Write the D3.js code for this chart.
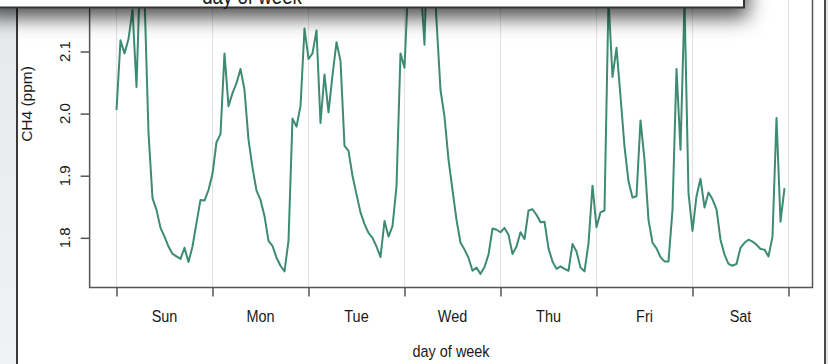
<!DOCTYPE html>
<html><head><meta charset="utf-8">
<script src="https://cdn.jsdelivr.net/npm/d3@7"></script>
<style>html,body{margin:0;padding:0;background:#fff;} svg{display:block;}</style>
</head><body><svg id="c" width="828" height="364"></svg>
<script>
// ---- data (hourly CH4, ppm) ----
const days = ["Sun","Mon","Tue","Wed","Thu","Fri","Sat"];
const sun = [2.006,2.118,2.097,2.120,2.167,2.043,2.250,2.190,1.969,1.864,1.845,1.816,1.802,1.786,1.774,1.770,1.766,1.784,1.761,1.786,1.824,1.861,1.860,1.877];
const mon = [1.903,1.954,1.967,2.097,2.012,2.033,2.049,2.072,2.038,1.958,1.913,1.876,1.861,1.835,1.795,1.787,1.768,1.755,1.746,1.795,1.992,1.979,2.012,2.137];
const tue = [2.088,2.097,2.134,1.985,2.063,2.002,2.062,2.115,2.085,1.948,1.940,1.900,1.870,1.841,1.822,1.808,1.800,1.786,1.769,1.827,1.802,1.819,1.883,2.097];
const wed = [2.074,2.220,2.280,2.250,2.212,2.111,2.350,2.280,2.150,2.038,1.995,1.926,1.877,1.829,1.792,1.781,1.768,1.747,1.752,1.742,1.753,1.773,1.815,1.813];
const thu = [1.809,1.816,1.805,1.774,1.786,1.809,1.798,1.844,1.846,1.837,1.825,1.826,1.783,1.762,1.750,1.754,1.750,1.747,1.790,1.778,1.752,1.746,1.791,1.884];
const fri = [1.817,1.841,1.844,2.185,2.059,2.106,2.028,1.947,1.891,1.865,1.867,1.989,1.926,1.829,1.792,1.783,1.769,1.762,1.762,1.845,2.072,1.942,2.180,1.872];
const sat = [1.811,1.867,1.895,1.849,1.873,1.862,1.846,1.797,1.773,1.758,1.755,1.758,1.784,1.792,1.797,1.794,1.789,1.782,1.781,1.770,1.802,1.993,1.826,1.880];
const yTicks = [1.8, 1.9, 2.0, 2.1];
const dayTicks = [0,1,2,3,4,5,6,7];
const xTitle = "day of week";
const yTitle = "CH4 (ppm)";

const series = [sun,mon,tue,wed,thu,fri,sat];
const points = series.flatMap((arr,d)=>arr.map((v,h)=>({t:d+h/24, v:v})));

const svg = d3.select("#c");
const FONT = "'Liberation Sans', Arial, Helvetica, sans-serif";
const x = d3.scaleLinear().domain([0,7]).range([116.5,788.5]);
const y = d3.scaleLinear().domain([1.72,2.4]).range([287.5, 287.5-0.68*621]);

const pLeft = x(-0.28), pRight = 812.5, pBottom = y(1.72), pTop = y(2.4);

// window chrome
const defs = svg.append("defs");
const lg = defs.append("linearGradient").attr("id","lg").attr("x1",0).attr("y1",0).attr("x2",0).attr("y2",1);
lg.append("stop").attr("offset","0%").attr("stop-color","#e6e8eb");
lg.append("stop").attr("offset","100%").attr("stop-color","#f1f2f4");
svg.append("rect").attr("x",0).attr("y",0).attr("width",16).attr("height",364).attr("fill","url(#lg)");
svg.append("line").attr("x1",17).attr("x2",17).attr("y1",0).attr("y2",364).attr("stroke","#3a3a3a").attr("stroke-width",2);
svg.append("line").attr("x1",825).attr("x2",825).attr("y1",0).attr("y2",364).attr("stroke","#4a4a4a").attr("stroke-width",2);
svg.append("rect").attr("x",826).attr("y",0).attr("width",2).attr("height",364).attr("fill","#e4e4e4");

// gridlines
svg.append("g").selectAll("line").data(dayTicks).join("line")
  .attr("x1",d=>x(d)).attr("x2",d=>x(d)).attr("y1",pTop).attr("y2",pBottom)
  .attr("stroke","#e4e4e4").attr("stroke-width",1.2);

// data line
const line = d3.line().x(d=>x(d.t)).y(d=>y(d.v));
svg.append("path").datum(points).attr("d",line)
  .attr("fill","none").attr("stroke","#3d8b72").attr("stroke-width",2).attr("stroke-linejoin","round");

// box
svg.append("path").attr("d",`M${pLeft},${pTop}V${pBottom}H${pRight}V${pTop}`)
  .attr("fill","none").attr("stroke","#555").attr("stroke-width",1.5);

// x axis ticks & labels
const xa = d3.axisBottom(x).tickValues(dayTicks).tickSize(9).tickFormat("");
const gx = svg.append("g").attr("transform",`translate(0,${pBottom})`).call(xa);
gx.select(".domain").remove();
gx.selectAll("line").attr("stroke","#555").attr("stroke-width",1.5);
svg.append("g").selectAll("text").data(days).join("text")
  .attr("transform",(d,i)=>`translate(${x(i+0.5)},321.5) scale(0.85,1)`)
  .attr("text-anchor","middle").attr("font-family",FONT).attr("font-size",17).attr("fill","#1a1a1a")
  .text(d=>d);
svg.append("text").attr("transform",`translate(${(pLeft+pRight)/2},357) scale(0.85,1)`)
  .attr("text-anchor","middle").attr("font-family",FONT).attr("font-size",17).attr("fill","#1a1a1a").text(xTitle);

// y axis ticks & labels
const ya = d3.axisLeft(y).tickValues(yTicks).tickSize(9).tickFormat("");
const gy = svg.append("g").attr("transform",`translate(${pLeft},0)`).call(ya);
gy.select(".domain").remove();
gy.selectAll("line").attr("stroke","#555").attr("stroke-width",1.5);
svg.append("g").selectAll("text").data(yTicks).join("text")
  .attr("transform",d=>`translate(70,${y(d)}) rotate(-90) scale(1,0.95)`)
  .attr("text-anchor","middle").attr("font-family",FONT).attr("font-size",15).attr("fill","#1a1a1a")
  .text(d=>d3.format(".1f")(d));
svg.append("text").attr("transform",`translate(32,104) rotate(-90) scale(1,0.9)`)
  .attr("text-anchor","middle").attr("font-family",FONT).attr("font-size",15.5).attr("fill","#1a1a1a").text(yTitle);

// overlapping window on top with shadow
const f = defs.append("filter").attr("id","sh").attr("x","-20%").attr("y","-50%").attr("width","140%").attr("height","800%");
f.append("feDropShadow").attr("dx",3).attr("dy",9).attr("stdDeviation",10).attr("flood-color","#000").attr("flood-opacity",0.7);
svg.append("rect").attr("x",-20).attr("y",-60).attr("width",764).attr("height",67.5)
  .attr("fill","#fff").attr("stroke","#333").attr("stroke-width",2).attr("filter","url(#sh)");
svg.append("text").attr("transform","translate(252,4) scale(0.85,1)")
  .attr("text-anchor","middle").attr("font-family",FONT).attr("font-size",22).attr("fill","#1a1a1a").text(xTitle);
</script>
</body></html>
